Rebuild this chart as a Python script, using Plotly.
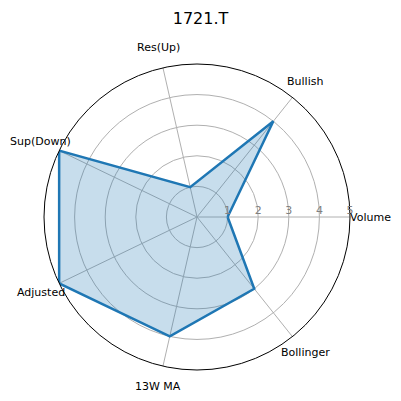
import numpy as np
import plotly.graph_objects as go

categories = ['Volume', 'Bullish', 'Res(Up)', 'Sup(Down)', 'Adjusted', '13W MA', 'Bollinger']
scores = [1, 4, 1, 5, 5, 4, 3]
radial_ticks = [1, 2, 3, 4, 5]

W = H = 401
cx, cy, R = 197, 217, 153  # polar centre / radius in pixels

# close the polygon
theta = categories + categories[:1]
r = scores + scores[:1]

fig = go.Figure()
fig.add_trace(go.Scatterpolar(
    r=r,
    theta=theta,
    mode='lines',
    fill='toself',
    fillcolor='rgba(31,119,180,0.25)',
    line=dict(color='#1f77b4', width=2.5),
    showlegend=False,
))

# category labels placed like matplotlib (centred just outside the circle)
angles = np.arange(len(categories)) * 2 * np.pi / len(categories)
for name, a in zip(categories, angles):
    px_ = cx + 1.135 * R * np.cos(a)
    py_ = cy - 1.135 * R * np.sin(a)
    fig.add_annotation(
        text=name, x=px_ / W, y=1 - py_ / H, xref='paper', yref='paper',
        xanchor='center', yanchor='middle', showarrow=False,
        font=dict(size=11, color='black'),
    )

fig.update_layout(
    width=W,
    height=H,
    margin=dict(l=0, r=0, t=0, b=0),
    paper_bgcolor='white',
    font=dict(family='DejaVu Sans', color='black', size=11),
    title=dict(text='1721.T', x=0.5, xanchor='center', y=1 - 18 / H, yanchor='middle',
               font=dict(size=16, color='black')),
    polar=dict(
        domain=dict(x=[(cx - R) / W, (cx + R) / W], y=[1 - (cy + R) / H, 1 - (cy - R) / H]),
        bgcolor='white',
        angularaxis=dict(
            rotation=0,
            direction='counterclockwise',
            categoryorder='array',
            categoryarray=categories,
            showline=True,
            linecolor='black',
            linewidth=1,
            gridcolor='#b0b0b0',
            gridwidth=1,
            ticks='',
            showticklabels=False,
        ),
        radialaxis=dict(
            range=[0, 5],
            tickvals=radial_ticks,
            ticktext=[str(t) for t in radial_ticks],
            angle=0,
            tickangle=0,
            side='counterclockwise',
            showline=False,
            ticks='',
            gridcolor='#b0b0b0',
            gridwidth=1,
            tickfont=dict(size=11, color='#808080'),
        ),
    ),
)

fig.write_html("out.html", config={'displayModeBar': False},
               post_script="document.body.style.margin='0';")
